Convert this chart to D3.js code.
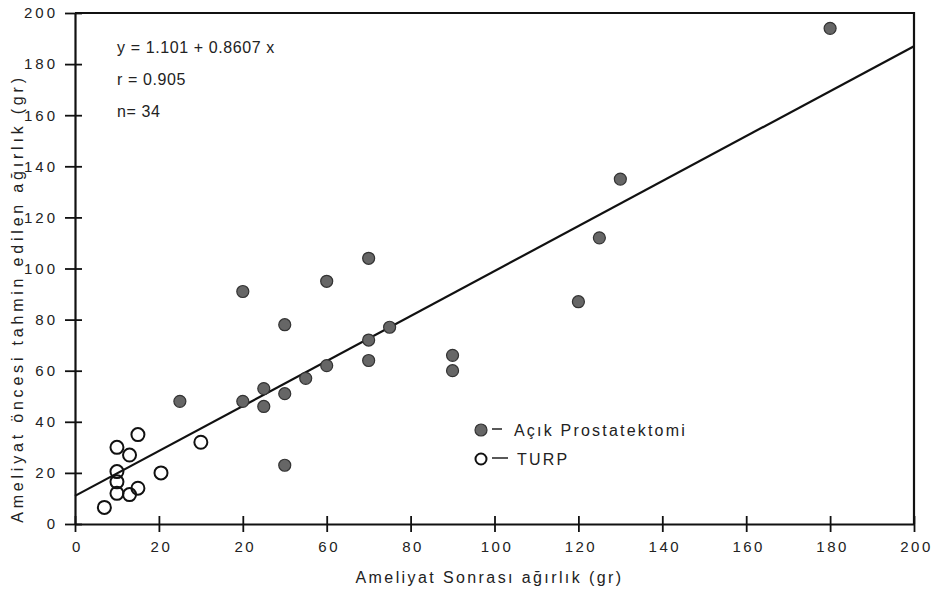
<!DOCTYPE html>
<html>
<head>
<meta charset="utf-8">
<script src="https://cdn.jsdelivr.net/npm/d3@7"></script>
<style>
  body { margin: 0; background: #fff; }
  text { font-family: "Liberation Sans", "DejaVu Sans", sans-serif; fill: #222; }
</style>
</head>
<body>
<div id="chart"></div>
<script>
// Açık Prostatektomi (filled dots)
const acikX = [180, 130, 125, 120, 90, 90, 75, 70, 70, 70, 60, 60, 55, 50, 50, 50, 45, 45, 40, 40, 25];
const acikY = [194, 135, 112, 87, 66, 60, 77, 104, 72, 64, 95, 62, 57, 78, 51, 23, 53, 46, 91, 48, 48];
// TURP (open circles)
const turpX = [7, 10, 10, 10, 10, 13, 13, 15, 15, 20.5, 30];
const turpY = [6.5, 30, 20.5, 16.5, 12, 27, 11.5, 35, 14, 20, 32];
// drawn fit line, as printed
const fitX = [0, 200];
const fitY = [11, 187];

const xTicks = [0, 20, 40, 60, 80, 100, 120, 140, 160, 180, 200];
const xTickLabels = ['0', '20', '20', '60', '80', '100', '120', '140', '160', '180', '200'];
const yTicks = [0, 20, 40, 60, 80, 100, 120, 140, 160, 180, 200];

const statLines = ['y = 1.101 + 0.8607 x', 'r = 0.905', 'n= 34'];
const legendNames = ['Açık Prostatektomi', 'TURP'];

const W = 935, H = 592;
const margin = { top: 13, right: 21, bottom: 68, left: 75 };
const width = W - margin.left - margin.right,
  height = H - margin.top - margin.bottom;

const svg = d3.select('#chart').append('svg')
  .attr('width', W).attr('height', H);
const g = svg.append('g')
  .attr('transform', `translate(${margin.left}, ${margin.top})`);

const x = d3.scaleLinear().domain([0, 200]).range([0, width]);
const y = d3.scaleLinear().domain([0, 200]).range([height, 0]);

// frame (top and right)
g.append('path')
  .attr('d', `M0,0H${width}V${height}`)
  .attr('fill', 'none').attr('stroke', '#111').attr('stroke-width', 2.2);

// x axis with crossing ticks
const xAxis = g.append('g').attr('transform', `translate(0, ${height})`)
  .call(d3.axisBottom(x).tickValues(xTicks).tickSize(0).tickFormat((d, i) => xTickLabels[i]));
xAxis.select('.domain').attr('stroke', '#111').attr('stroke-width', 2.2);
xAxis.selectAll('.tick line').attr('y1', -8).attr('y2', 8).attr('stroke', '#111').attr('stroke-width', 1.8);
xAxis.selectAll('.tick text').attr('y', 17).attr('font-size', 15).attr('letter-spacing', 2.5)
  .attr('dx', 2).attr('fill', '#222');

// y axis
const yAxis = g.append('g')
  .call(d3.axisLeft(y).tickValues(yTicks).tickSize(0));
yAxis.select('.domain').attr('stroke', '#111').attr('stroke-width', 2.2);
yAxis.selectAll('.tick line').attr('x1', -10).attr('x2', 7).attr('stroke', '#111').attr('stroke-width', 1.8);
yAxis.selectAll('.tick text').attr('x', -17).attr('font-size', 15).attr('letter-spacing', 3)
  .attr('fill', '#222');

// axis titles
svg.append('text')
  .attr('x', margin.left + width / 2 - 5).attr('y', 583)
  .attr('text-anchor', 'middle').attr('font-size', 16).attr('letter-spacing', 2.4)
  .text('Ameliyat Sonrası ağırlık (gr)');
svg.append('text')
  .attr('transform', `translate(23, ${margin.top + height / 2 + 30}) rotate(-90)`)
  .attr('text-anchor', 'middle').attr('font-size', 16).attr('letter-spacing', 3.8)
  .text('Ameliyat öncesi tahmin edilen ağırlık (gr)');

// fit line
g.append('line')
  .attr('x1', x(fitX[0])).attr('y1', y(fitY[0]))
  .attr('x2', x(fitX[1])).attr('y2', y(fitY[1]))
  .attr('stroke', '#111').attr('stroke-width', 2.2);

// TURP circles
g.append('g').selectAll('circle')
  .data(turpX.map((d, i) => [d, turpY[i]]))
  .join('circle')
  .attr('cx', d => x(d[0])).attr('cy', d => y(d[1]))
  .attr('r', 6.5)
  .attr('fill', 'none').attr('stroke', '#111').attr('stroke-width', 2);

// Açık Prostatektomi dots
g.append('g').selectAll('circle')
  .data(acikX.map((d, i) => [d, acikY[i]]))
  .join('circle')
  .attr('cx', d => x(d[0])).attr('cy', d => y(d[1]))
  .attr('r', 6)
  .attr('fill', '#666').attr('stroke', '#333').attr('stroke-width', 1.2);

// stats text
svg.selectAll('.stat')
  .data(statLines)
  .join('text')
  .attr('class', 'stat')
  .attr('x', 117).attr('y', (d, i) => 53 + i * 32)
  .attr('font-size', 16).attr('letter-spacing', 0.6)
  .text(d => d);

// legend
const leg = svg.append('g');
leg.append('circle').attr('cx', 481).attr('cy', 430).attr('r', 6)
  .attr('fill', '#666').attr('stroke', '#333').attr('stroke-width', 1.2);
leg.append('circle').attr('cx', 481).attr('cy', 459).attr('r', 5.5)
  .attr('fill', 'none').attr('stroke', '#111').attr('stroke-width', 2);
leg.selectAll('.dash')
  .data(legendNames)
  .join('line')
  .attr('class', 'dash')
  .attr('x1', 492).attr('x2', (d, i) => i ? 508 : 502)
  .attr('y1', (d, i) => 429 + i * 29).attr('y2', (d, i) => 429 + i * 29)
  .attr('stroke', '#222').attr('stroke-width', 1.5);
leg.selectAll('.lg')
  .data(legendNames)
  .join('text')
  .attr('class', 'lg')
  .attr('x', (d, i) => i ? 517 : 514).attr('y', (d, i) => 436 + i * 29)
  .attr('font-size', 16).attr('letter-spacing', 2.2)
  .text(d => d);
</script>
</body>
</html>
